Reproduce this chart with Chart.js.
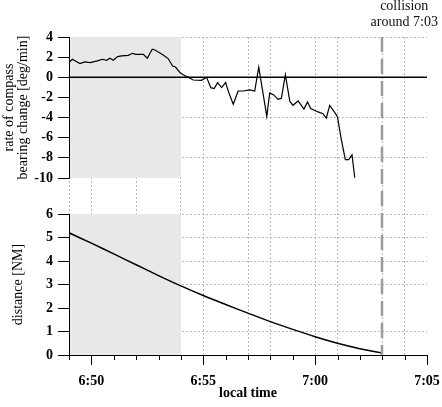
<!DOCTYPE html>
<html><head><meta charset="utf-8">
<script src="https://cdn.jsdelivr.net/npm/chart.js@4.4.1/dist/chart.umd.min.js"></script>
<style>html,body{margin:0;padding:0;background:#fff;} #c{display:block;}</style>
</head><body>
<canvas id="c" width="442" height="407"></canvas>
<script>
// ---- data (time in minutes after 6:00) ----
const rateTimes = [49.00,49.15,49.49,49.71,49.94,50.31,50.49,50.68,50.83,50.98,51.17,51.35,51.65,51.84,51.98,52.32,52.50,52.72,52.84,53.21,53.43,53.63,53.76,53.96,54.10,54.33,54.55,54.92,55.15,55.34,55.49,55.64,55.82,56.00,56.14,56.34,56.56,56.78,57.08,57.30,57.48,57.84,57.97,58.15,58.34,58.49,58.67,58.87,59.01,59.24,59.50,59.66,59.80,60.13,60.35,60.50,60.65,60.88,61.00,61.17,61.35,61.50,61.65,61.77];
const rateValues = [1.46,1.79,1.36,1.52,1.46,1.65,1.79,1.69,1.89,1.69,2.05,2.12,2.18,2.38,2.28,2.28,1.89,2.78,2.71,2.22,1.86,1.12,1.02,0.47,0.25,0.0,-0.27,-0.30,0.0,-1.03,-1.12,-0.53,-1.03,-0.53,-1.52,-2.68,-1.36,-1.36,-1.26,-1.36,1.0,-3.88,-1.55,-1.75,-2.2,-2.1,0.25,-2.4,-2.78,-2.35,-3.15,-2.45,-3.11,-3.44,-3.62,-4.05,-2.78,-3.5,-3.95,-6.16,-8.17,-8.17,-7.7,-9.96];
const distTimes = [49,50,51,52,53,54,55,56,57,58,59,60,61,62,63];
const distValues = [5.2,4.76,4.3,3.84,3.38,2.94,2.53,2.15,1.78,1.42,1.09,0.78,0.5,0.27,0.08];
const zeroTimes = [49,65];
const zeroValues = [0,0];
const xTickLabels = ['6:50','6:55','7:00','7:05'];
const xGridMinutes = [49,50,52,54,55,57,58,60,61,63,64];
const rateGridValues = [4,-4,-8];
const distGridValues = [6,5,4,3,1];
const shadeRange = [49,54];
const collisionTime = 63;
const collisionText = ['collision','around 7:03'];
const rateTitle = ['rate of compass','bearing change [deg/min]'];
const distTitle = 'distance [NM]';
const xTitle = 'local time';

const SERIF = "'Liberation Serif','Times New Roman',serif";
Chart.defaults.font.family = SERIF;
Chart.defaults.color = '#000';

const fmt = m => (6 + Math.floor(m/60)) + ':' + String(Math.round(m%60)).padStart(2,'0');
const pts = (t,v) => t.map((x,i)=>({x:x,y:v[i]}));

const deco = {
  id:'deco',
  beforeDatasetsDraw(chart){
    const {ctx, scales:{x, yRate, yDist}} = chart;
    const x0 = x.getPixelForValue(shadeRange[0]), x1 = x.getPixelForValue(shadeRange[1]);
    ctx.save();
    ctx.fillStyle = '#e8e8e8';
    ctx.fillRect(x0, yRate.top, x1-x0, yRate.bottom-yRate.top);
    ctx.fillRect(x0, yDist.top, x1-x0, yDist.bottom-yDist.top);
    ctx.restore();
  },
  afterDatasetsDraw(chart){
    const {ctx, chartArea, scales:{x}} = chart;
    const px = Math.round(x.getPixelForValue(collisionTime));
    ctx.save();
    ctx.strokeStyle = '#9a9a9a';
    ctx.lineWidth = 2.5;
    ctx.setLineDash([15,7]);
    ctx.beginPath();
    ctx.moveTo(px, chartArea.top);
    ctx.lineTo(px, chartArea.bottom);
    ctx.stroke();
    ctx.restore();
  },
  afterDraw(chart){
    const {ctx, scales:{x}} = chart;
    ctx.save();
    ctx.strokeStyle = '#000';
    ctx.lineWidth = 1;
    for (let m = x.min; m <= x.max; m++){
      const px = Math.round(x.getPixelForValue(m)) + 0.5;
      const len = (m % 5 === 0) ? 10 : 5;
      ctx.beginPath();
      ctx.moveTo(px, x.top);
      ctx.lineTo(px, x.top + len);
      ctx.stroke();
    }
    const cx = x.getPixelForValue(collisionTime) + 22;
    ctx.fillStyle = '#111';
    ctx.font = '14px ' + SERIF;
    ctx.textAlign = 'center';
    ctx.textBaseline = 'alphabetic';
    ctx.fillText(collisionText[0], cx, 10);
    ctx.fillText(collisionText[1], cx, 26);
    ctx.restore();
  }
};

new Chart(document.getElementById('c'), {
  type:'line',
  data:{
    datasets:[
      {label:'rate', data:pts(rateTimes,rateValues), yAxisID:'yRate', borderColor:'#000', borderWidth:1.2, pointRadius:0, tension:0, fill:false},
      {label:'zero', data:pts(zeroTimes,zeroValues), yAxisID:'yRate', borderColor:'#000', borderWidth:1.6, pointRadius:0, tension:0, fill:false},
      {label:'distance', data:pts(distTimes,distValues), yAxisID:'yDist', borderColor:'#000', borderWidth:1.5, pointRadius:0, tension:0.3, fill:false}
    ]
  },
  options:{
    responsive:false,
    animation:false,
    devicePixelRatio:1,
    layout:{padding:{top:37,right:15,bottom:0,left:0}},
    plugins:{legend:{display:false}, tooltip:{enabled:false}},
    scales:{
      x:{
        type:'linear', position:'bottom', min:49, max:65,
        afterFit: s => { s.height = 52; },
        ticks:{stepSize:1, autoSkip:false, maxRotation:0, padding:0,
          font:{size:14, weight:'bold'},
          callback: v => { const l = fmt(v); return xTickLabels.includes(l) ? l : ''; }},
        grid:{drawTicks:true, tickLength:18, tickColor:'rgba(0,0,0,0)', lineWidth:1,
          color: c => (c.tick && xGridMinutes.includes(c.tick.value)) ? '#b8b8b8' : 'rgba(0,0,0,0)'},
        border:{display:true, color:'#000', width:1, dash:[2,2], z:1},
        title:{display:true, text:xTitle, font:{size:14, weight:'bold', lineHeight:1}, padding:{top:0,bottom:7}}
      },
      yDist:{
        type:'linear', position:'left', stack:'v', stackWeight:141, weight:1,
        min:0, max:6,
        afterFit: s => { s.width = 69; },
        ticks:{stepSize:1, autoSkip:false, padding:5, font:{size:14, weight:'bold'}},
        grid:{tickLength:11, tickColor:'#000', tickWidth:1, lineWidth:1,
          color: c => (c.tick && distGridValues.includes(c.tick.value)) ? '#b8b8b8' : 'rgba(0,0,0,0)'},
        border:{display:true, color:'#000', width:1, dash:[2,2], z:1},
        title:{display:true, text:distTitle, font:{size:14, lineHeight:1}, padding:{top:11,bottom:0}}
      },
      yGap:{
        type:'linear', position:'left', stack:'v', stackWeight:36, weight:2,
        min:0, max:1,
        afterFit: s => { s.width = 69; },
        ticks:{display:false},
        grid:{display:false},
        border:{display:false}
      },
      yRate:{
        type:'linear', position:'left', stack:'v', stackWeight:141, weight:3,
        min:-10, max:4,
        afterFit: s => { s.width = 69; },
        ticks:{stepSize:2, autoSkip:false, padding:5, font:{size:14, weight:'bold'}},
        grid:{tickLength:11, tickColor:'#000', tickWidth:1, lineWidth:1,
          color: c => (c.tick && rateGridValues.includes(c.tick.value)) ? '#b8b8b8' : 'rgba(0,0,0,0)'},
        border:{display:true, color:'#000', width:1, dash:[2,2], z:1},
        title:{display:true, text:rateTitle, font:{size:14, lineHeight:1}, padding:{top:2,bottom:0}}
      }
    }
  },
  plugins:[deco]
});
</script>
</body></html>
